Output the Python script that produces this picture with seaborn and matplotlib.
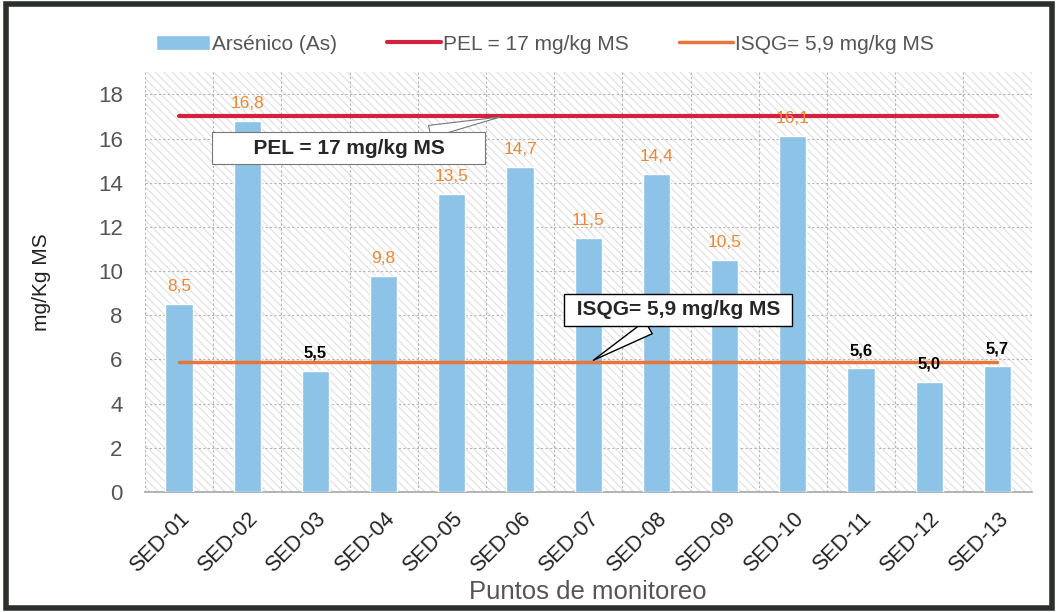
import matplotlib
matplotlib.use("Agg")
import matplotlib.pyplot as plt
import seaborn as sns
import pandas as pd
import numpy as np

# datos
puntos = ["SED-01", "SED-02", "SED-03", "SED-04", "SED-05", "SED-06", "SED-07",
          "SED-08", "SED-09", "SED-10", "SED-11", "SED-12", "SED-13"]
arsenico = [8.5, 16.8, 5.5, 9.8, 13.5, 14.7, 11.5, 14.4, 10.5, 16.1, 5.6, 5.0, 5.7]
pel = [17] * 13
isqg = [5.9] * 13
yticks = [0, 2, 4, 6, 8, 10, 12, 14, 16, 18]

sns.set_theme(style="white")
plt.rcParams['font.family'] = ['Liberation Sans', 'DejaVu Sans']
plt.rcParams['hatch.color'] = '#d6d6d6'
plt.rcParams['hatch.linewidth'] = 0.6

df = pd.DataFrame({"punto": puntos, "as": arsenico, "pel": pel, "isqg": isqg})

fig = plt.figure(figsize=(10.58, 6.12), dpi=100)
ax = fig.add_axes([0.137, 0.196, 0.838, 0.686])
ax.patch.set_hatch('\\\\\\\\')
ax.patch.set_edgecolor('#d6d6d6')
ax.patch.set_linewidth(0)

sns.barplot(data=df, x="punto", y="as", color="#8dc3e6", saturation=1, width=0.4,
            ax=ax, label="Arsénico (As)", zorder=3)
sns.lineplot(data=df, x="punto", y="pel", color="#d4213f", linewidth=3, ax=ax,
             label="PEL = 17 mg/kg MS", zorder=4)
sns.lineplot(data=df, x="punto", y="isqg", color="#e8763a", linewidth=2.5, ax=ax,
             label="ISQG= 5,9 mg/kg MS", zorder=4)

ax.set_xlim(-0.5, 12.5)
ax.set_ylim(0, 19)
ax.set_yticks(yticks)
ax.set_xticks(range(13))
ax.set_xticklabels(puntos, rotation=45, ha="right", rotation_mode="anchor",
                   fontsize=15.5, color="#222222")
ax.tick_params(axis="y", labelsize=16, labelcolor="#555555", pad=16, length=0)
ax.tick_params(axis="x", pad=12, length=0)

# grilla punteada
for y in yticks[1:]:
    ax.axhline(y, color="#b5b5b5", lw=0.8, ls=(0, (2, 2)), zorder=1)
for xb in np.arange(-0.5, 13, 1):
    ax.axvline(xb, color="#b5b5b5", lw=0.8, ls=(0, (2, 2)), zorder=1)

for s in ["top", "right", "left"]:
    ax.spines[s].set_visible(False)
ax.spines["bottom"].set_color("#aaaaaa")

# etiquetas de valor
for i, v in enumerate(arsenico):
    txt = f"{v:.1f}".replace(".", ",")
    if v > isqg[i]:
        ax.text(i, v + 0.45, txt, ha="center", va="bottom", fontsize=12.5,
                color="#e8883a", zorder=6)
    else:
        ax.text(i, v + 0.45, txt, ha="center", va="bottom", fontsize=12,
                color="black", fontweight="bold", zorder=6)

# llamadas
ax.annotate("      PEL = 17 mg/kg MS      ", xy=(4.75, 17), xytext=(2.49, 15.56),
            ha="center", va="center", fontsize=15, fontweight="bold", zorder=7,
            bbox=dict(boxstyle="square,pad=0.3", fc="white", ec="#777777", lw=0.8),
            arrowprops=dict(arrowstyle="wedge,tail_width=0.6", fc="white",
                            ec="#777777", lw=0.8))
ax.annotate(" ISQG= 5,9 mg/kg MS ", xy=(6.04, 5.9), xytext=(7.32, 8.25),
            ha="center", va="center", fontsize=15, fontweight="bold", zorder=7,
            bbox=dict(boxstyle="square,pad=0.3", fc="white", ec="black", lw=1),
            arrowprops=dict(arrowstyle="wedge,tail_width=0.7", fc="white",
                            ec="black", lw=1))

ax.set_xlabel("Puntos de monitoreo", fontsize=18.5, color="#555555", labelpad=2)
ax.set_ylabel("mg/Kg MS", fontsize=15, color="#222222", labelpad=34)

h, l = ax.get_legend_handles_labels()
ax.get_legend().remove()
orden = [l.index("Arsénico (As)"), l.index("PEL = 17 mg/kg MS"), l.index("ISQG= 5,9 mg/kg MS")]
fig.legend([h[k] for k in orden], [l[k] for k in orden], loc="center",
           bbox_to_anchor=(0.515, 0.928), ncol=3,
           frameon=False, fontsize=15, labelcolor="#555555",
           handlelength=2.6, handletextpad=0.1, columnspacing=2.4)

# marco exterior
fig.patches.append(plt.Rectangle((0.006, 0.006), 0.988, 0.988, transform=fig.transFigure,
                                 fill=False, ec="#2a2f2c", lw=4))

fig.savefig("out.png", dpi=100)
